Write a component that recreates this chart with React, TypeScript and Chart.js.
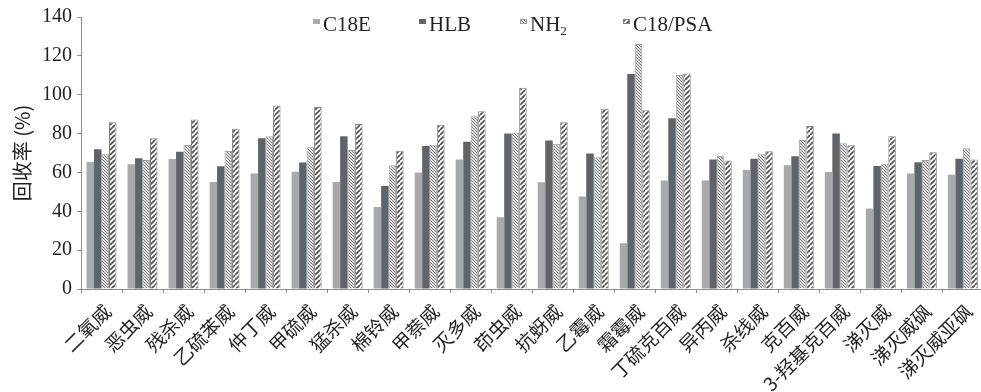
import React, { useEffect, useRef } from "react";
import { Chart, registerables } from "chart.js";

Chart.register(...registerables);

const categories = [
  "二氧威", "恶虫威", "残杀威", "乙硫苯威", "仲丁威", "甲硫威", "猛杀威", "棉铃威",
  "甲萘威", "灭多威", "茚虫威", "抗蚜威", "乙霉威", "霜霉威", "丁硫克百威", "异丙威",
  "杀线威", "克百威", "3-羟基克百威", "涕灭威", "涕灭威砜", "涕灭威亚砜",
];
const c18e = [65.4, 64.2, 66.9, 55.1, 59.4, 60.4, 55.1, 42.2, 59.9, 66.6, 36.9, 54.9, 47.6, 23.5, 55.9, 55.9, 61.3, 63.7, 60.2, 41.4, 59.5, 58.8];
const hlb = [71.9, 67.3, 70.7, 63.2, 77.6, 65.1, 78.6, 53.0, 73.6, 75.8, 80.0, 76.4, 69.7, 110.7, 87.9, 66.6, 67.1, 68.3, 80.0, 63.3, 65.2, 67.1];
const nh2 = [69.3, 66.4, 74.1, 71.0, 78.6, 72.9, 71.5, 63.7, 74.3, 88.9, 80.6, 74.8, 67.8, 126.1, 110.1, 68.5, 69.3, 76.7, 75.0, 64.5, 66.4, 72.4];
const psa = [85.8, 77.6, 87.2, 82.5, 94.4, 93.7, 84.9, 71.2, 84.6, 91.5, 103.6, 85.8, 92.8, 92.0, 110.9, 66.1, 70.9, 83.9, 74.0, 78.6, 70.4, 66.6];
const seriesNames = ["C18E", "HLB", "NH₂", "C18/PSA"];
const yTicks = [0, 20, 40, 60, 80, 100, 120, 140];
const yTitle = "回收率 (%)";

function hatch(size: number, bg: string, fg: string, lw: number, dir: "/" | "\\"): CanvasPattern {
  const c = document.createElement("canvas");
  c.width = size;
  c.height = size;
  const ctx = c.getContext("2d")!;
  ctx.fillStyle = bg;
  ctx.fillRect(0, 0, size, size);
  ctx.strokeStyle = fg;
  ctx.lineWidth = lw;
  ctx.beginPath();
  for (let k = -1; k <= 1; k++) {
    if (dir === "/") {
      ctx.moveTo(k * size, size);
      ctx.lineTo(k * size + size, 0);
    } else {
      ctx.moveTo(k * size, 0);
      ctx.lineTo(k * size + size, size);
    }
  }
  ctx.stroke();
  return ctx.createPattern(c, "repeat")!;
}

const SERIF = "'Liberation Serif', 'Times New Roman', 'Noto Sans CJK SC', serif";
const CJK = "'Noto Sans CJK SC', 'Liberation Serif', serif";
const TEXT = "#231f20";
const AXIS = "#8c8c8c";

export default function App() {
  const ref = useRef<HTMLCanvasElement>(null);

  useEffect(() => {
    const canvas = ref.current!;
    const nh2Pat = hatch(3, "#e2e2e2", "#7d7d7d", 1, "\\");
    const psaPat = hatch(5, "#ffffff", "#505050", 1.7, "/");
    const fills: (string | CanvasPattern)[] = ["#a7a9ac", "#5d646a", nh2Pat, psaPat];
    const borders = ["#a7a9ac", "#5d646a", "#a0a0a0", "#808080"];
    const legendX = [313, 419, 520, 623];

    const legendPlugin = {
      id: "customLegend",
      afterDraw(chart: any) {
        const ctx = chart.ctx as CanvasRenderingContext2D;
        ctx.save();
        seriesNames.forEach((name, i) => {
          const x = legendX[i];
          ctx.fillStyle = fills[i] as any;
          ctx.fillRect(x, 19, 7, 5);
          ctx.strokeStyle = borders[i];
          ctx.lineWidth = 1;
          if (i >= 2) ctx.strokeRect(x + 0.5, 19.5, 6, 4);
          ctx.fillStyle = TEXT;
          ctx.textBaseline = "alphabetic";
          ctx.textAlign = "left";
          ctx.font = `21px ${SERIF}`;
          const base = 31;
          if (name === "NH₂") {
            ctx.fillText("NH", x + 10, base);
            const w = ctx.measureText("NH").width;
            ctx.font = `13px ${SERIF}`;
            ctx.fillText("2", x + 10 + w, base + 4);
          } else {
            ctx.fillText(name, x + 10, base);
          }
        });
        ctx.restore();
      },
    };

    const data = [c18e, hlb, nh2, psa];
    const chart = new Chart(canvas, {
      type: "bar",
      data: {
        labels: categories,
        datasets: data.map((d, i) => ({
          label: seriesNames[i],
          data: d,
          backgroundColor: fills[i] as any,
          borderColor: borders[i],
          borderWidth: i >= 2 ? 1 : 0,
          categoryPercentage: 0.73,
          barPercentage: 1.0,
        })),
      },
      options: {
        responsive: false,
        animation: false,
        devicePixelRatio: 1,
        layout: { padding: { top: 17, left: 0, right: 0, bottom: 0 } },
        plugins: {
          legend: { display: false },
          tooltip: { enabled: false },
        },
        scales: {
          x: {
            grid: {
              display: true,
              drawOnChartArea: false,
              drawTicks: true,
              tickLength: 4,
              color: AXIS,
              offset: true,
            },
            border: { display: true, color: AXIS, width: 1 },
            ticks: {
              autoSkip: false,
              maxRotation: 45,
              minRotation: 45,
              padding: 7,
              labelOffset: 6,
              color: TEXT,
              font: { family: CJK, size: 19 },
            },
            afterFit: (scale: any) => {
              scale.height = 103;
            },
          },
          y: {
            min: 0,
            max: 140,
            afterBuildTicks: (scale: any) => {
              scale.ticks = yTicks.map((v) => ({ value: v }));
            },
            grid: {
              display: true,
              drawOnChartArea: false,
              drawTicks: true,
              tickLength: 4,
              color: AXIS,
            },
            border: { display: true, color: AXIS, width: 1 },
            ticks: {
              padding: 5,
              color: TEXT,
              font: { family: SERIF, size: 20 },
            },
            title: {
              display: true,
              text: yTitle,
              color: TEXT,
              font: { family: CJK, size: 20, weight: "normal" },
              padding: { top: 10, bottom: 0 },
            },
            afterFit: (scale: any) => {
              scale.width = 81;
            },
          },
        },
      },
      plugins: [legendPlugin],
    });
    return () => chart.destroy();
  }, []);

  return (
    <div
      style={{
        position: "fixed",
        left: 0,
        top: 0,
        width: 981,
        height: 392,
        overflow: "hidden",
        background: "#ffffff",
      }}
    >
      <canvas ref={ref} width={986} height={392} style={{ display: "block" }} />
    </div>
  );
}
